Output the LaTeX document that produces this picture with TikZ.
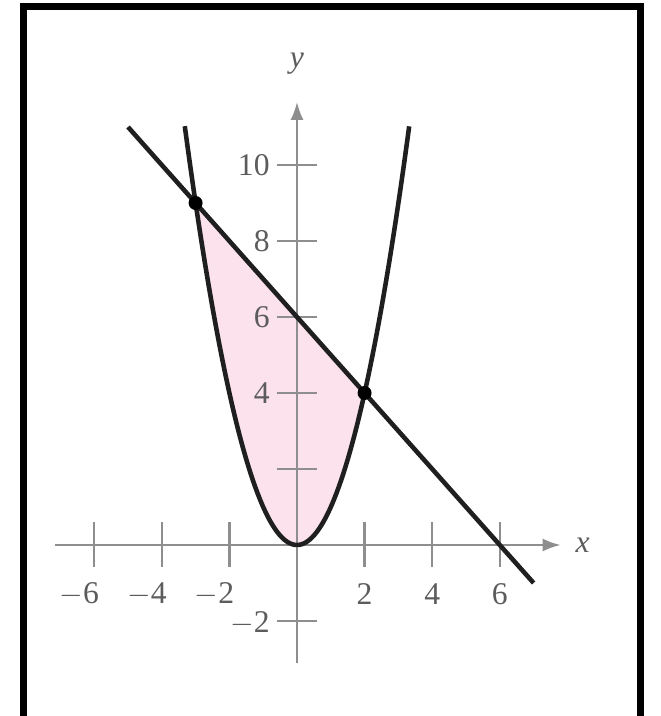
\documentclass[tikz,border=0pt]{standalone}
\usepackage{fontspec}
\setmainfont{Liberation Serif}
\usetikzlibrary{arrows.meta}
\definecolor{axisgray}{HTML}{8E8E8E}
\definecolor{tickink}{HTML}{5C5C5C}
\definecolor{regionpink}{HTML}{FBE2EC}

\begin{document}
\begin{tikzpicture}[x=0.676cm,y=0.76cm,
  axis/.style={axisgray,line width=1.3pt},
  axisarrow/.style={axis,-{Latex[length=3.6mm,width=2.6mm]}},
  curve/.style={black!88,line width=2.6pt},
  boxline/.style={black,line width=4pt},
  ticklabel/.style={font=\fontsize{18}{18}\selectfont,text=tickink,inner sep=0pt},
  meet/.style={circle,fill=black,inner sep=0pt,minimum size=2.8mm}
]
  \useasboundingbox (-8.787,-4.5) rectangle (10.769,14.342);

  % shaded region between the two graphs
  \fill[regionpink] plot[domain=-3:2,samples=60] (\x,{\x*\x}) -- (-3,9) -- cycle;

  % frame, open at the bottom
  \draw[boxline] (-8.09,-4.7) -- (-8.09,14.17) -- (10.15,14.17) -- (10.15,-4.7);

  % axes and ticks
  \draw[axisarrow] (-7.16,0) -- (7.8,0);
  \draw[axisarrow] (0,-3.1) -- (0,11.66);
  \foreach \t in {-6,-4,-2,2,4,6}
    \draw[axis] (\t,0.6) -- (\t,-0.58);
  \foreach \t in {-2,2,4,6,8,10}
    \draw[axis] (-0.6,\t) -- (0.6,\t);

  % tick labels
  \foreach \t in {2,4,6}
    \node[ticklabel] (xl\t) at (\t,-1.3) {\t};
  \foreach \t in {6,4,2}
    \node[ticklabel] (xm\t) at (-\t-0.44,-1.3) {$-$\t};
  \foreach \t in {4,6,8,10}
    \node[ticklabel,anchor=east] (yl\t) at (-0.8,\t) {\t};
  \node[ticklabel,anchor=east] (ym2) at (-0.8,-2.05) {$-$2};
  \node[ticklabel] (xname) at (8.45,0) {\textit{x}};
  \node[ticklabel] (yname) at (0,12.68) {\textit{y}};

  % graphs
  \draw[curve] plot[domain=-3.32:3.32,samples=100] (\x,{\x*\x});
  \draw[curve] (-5,11) -- (7,-1);
  \node[meet] (p1) at (-3,9) {};
  \node[meet] (p2) at (2,4) {};
\end{tikzpicture}
\end{document}
